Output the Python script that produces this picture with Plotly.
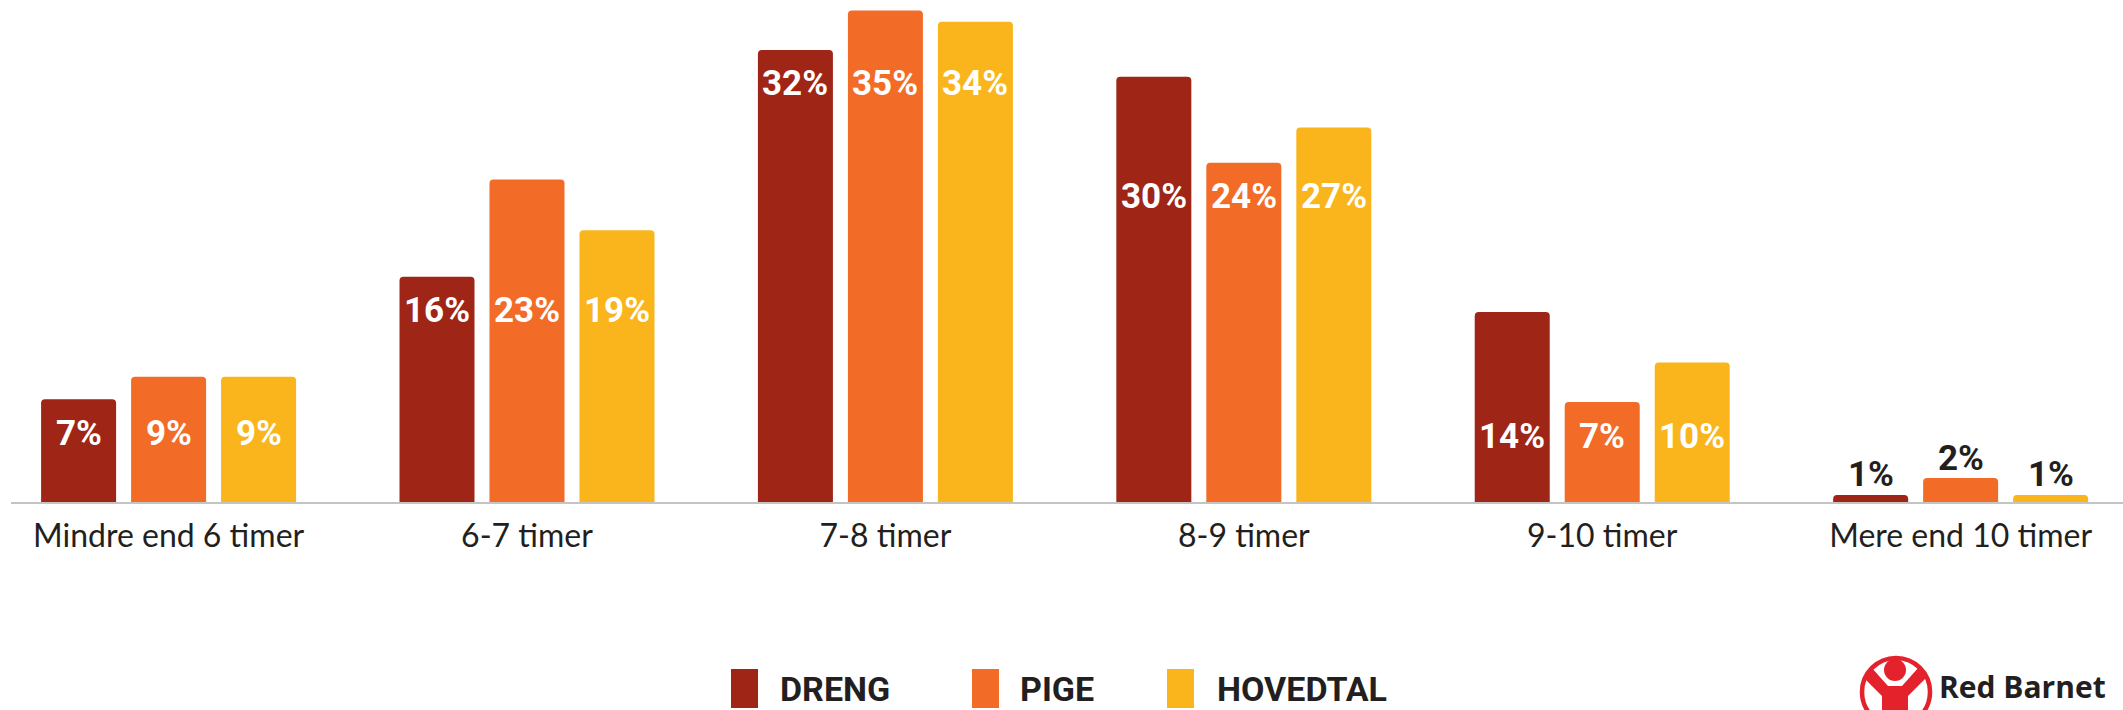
import plotly.graph_objects as go

# ---------------- data ----------------
categories = ["Mindre end 6 timer", "6-7 timer", "7-8 timer", "8-9 timer", "9-10 timer", "Mere end 10 timer"]
series_names = ["DRENG", "PIGE", "HOVEDTAL"]
dreng = [7.3, 16.0, 32.1, 30.2, 13.5, 0.5]
pige = [8.9, 22.9, 34.9, 24.1, 7.1, 1.7]
hovedtal = [8.9, 19.3, 34.1, 26.6, 9.9, 0.5]
dreng_labels = ["7%", "16%", "32%", "30%", "14%", "1%"]
pige_labels = ["9%", "23%", "35%", "24%", "7%", "2%"]
hovedtal_labels = ["9%", "19%", "34%", "27%", "10%", "1%"]

# ---------------- style ----------------
colors = ["#9F2517", "#F26B27", "#F9B51B"]
text_dark = "#231F20"
cond_font = "Roboto, 'Liberation Sans', sans-serif"

W, H = 2123, 710
ML, MR, MT, MB = 11, 0, 0, 208
plot_w = W - ML - MR
plot_h = H - MT - MB
BARGAP = 0.2467
BARGROUPGAP = 0.1665
XRANGE = [-0.4397, 5.453]
YRANGE = [0, 35.65]


def px_x(px):
    return (px - ML) / plot_w


def px_y(py):
    return (H - MB - py) / plot_h


values = [dreng, pige, hovedtal]
labels = [dreng_labels, pige_labels, hovedtal_labels]
xs = list(range(len(categories)))

fig = go.Figure()
for name, vals, col in zip(series_names, values, colors):
    fig.add_trace(go.Bar(
        x=xs, y=vals, name=name, marker=dict(color=col, line=dict(width=0)),
        showlegend=False, hoverinfo="skip",
    ))

annotations = []
slot = (1 - BARGAP) / 3
for j in xs:
    gmin = min(v[j] for v in values)
    for i, (vals, labs) in enumerate(zip(values, labels)):
        xpos = j + (i - 1) * slot
        if gmin >= 3:
            annotations.append(dict(
                x=xpos, y=gmin, xref="x", yref="y", yshift=-34, yanchor="middle",
                text=labs[j], showarrow=False,
                font=dict(family=cond_font, size=35, color="white", weight="bold"),
            ))
        else:
            annotations.append(dict(
                x=xpos, y=vals[j], xref="x", yref="y", yshift=20, yanchor="middle",
                text=labs[j], showarrow=False,
                font=dict(family=cond_font, size=35, color=text_dark, weight="bold"),
            ))

# custom legend
shapes = []
legend_sq_left = [731, 972, 1167]
legend_txt_left = [778, 1018, 1215]
for name, col, sx, tx in zip(series_names, colors, legend_sq_left, legend_txt_left):
    shapes.append(dict(type="rect", xref="paper", yref="paper",
                       x0=px_x(sx), x1=px_x(sx + 27), y0=px_y(708), y1=px_y(669),
                       fillcolor=col, line=dict(width=0), layer="above"))
    annotations.append(dict(x=px_x(tx), y=px_y(689), xref="paper", yref="paper",
                            xanchor="left", yanchor="middle", text=name, showarrow=False,
                            font=dict(family=cond_font, size=34, color=text_dark, weight="bold")))

# Red Barnet logo
logo_red = "#E3222B"
shapes.append(dict(type="circle", xref="paper", yref="paper",
                   x0=px_x(1862), x1=px_x(1930), y0=px_y(726), y1=px_y(658),
                   line=dict(color=logo_red, width=4.5), fillcolor="rgba(0,0,0,0)"))
shapes.append(dict(type="circle", xref="paper", yref="paper",
                   x0=px_x(1884), x1=px_x(1906), y0=px_y(681), y1=px_y(659),
                   line=dict(width=0), fillcolor=logo_red))
body_pts = [(1864, 678), (1871, 667), (1888, 686), (1902, 686), (1919, 667), (1926, 678),
            (1908, 696), (1908, 715), (1882, 715), (1882, 696)]
path = "M " + " L ".join(f"{px_x(a):.5f},{px_y(b):.5f}" for a, b in body_pts) + " Z"
shapes.append(dict(type="path", xref="paper", yref="paper", path=path,
                   line=dict(width=0), fillcolor=logo_red))
annotations.append(dict(x=px_x(1937), y=px_y(686), xref="paper", yref="paper",
                        xanchor="left", yanchor="middle", text="Red Barnet", showarrow=False,
                        font=dict(family="'Open Sans', sans-serif", size=30, color=text_dark, weight="bold")))

fig.update_layout(
    width=W, height=H,
    margin=dict(l=ML, r=MR, t=MT, b=MB, pad=0),
    paper_bgcolor="white", plot_bgcolor="white",
    barmode="group", bargap=BARGAP, bargroupgap=BARGROUPGAP, barcornerradius=4,
    annotations=annotations, shapes=shapes,
    xaxis=dict(range=XRANGE, tickvals=xs, ticktext=categories, ticks="",
               showline=True, linecolor="#C4C4C4", linewidth=2, showgrid=False, zeroline=False,
               tickfont=dict(family="Lato, sans-serif", size=32, color=text_dark),
               ticklabelstandoff=5, fixedrange=True),
    yaxis=dict(range=YRANGE, visible=False, showgrid=False, zeroline=False, fixedrange=True),
)

fig.write_html("out.html", config={"displayModeBar": False})
